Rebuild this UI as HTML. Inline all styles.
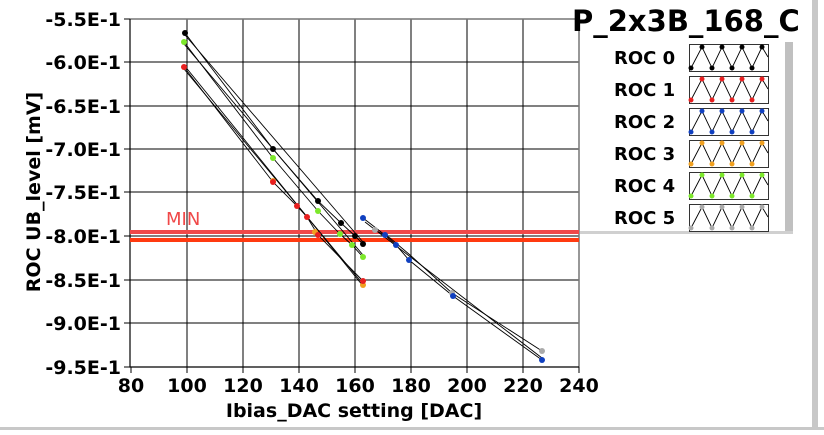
<!DOCTYPE html>
<html><head><meta charset="utf-8"><style>
body{margin:0;background:#fff;}
svg text{font-family:"DejaVu Sans","Liberation Sans",sans-serif;font-weight:bold;}
</style></head><body>
<svg width="824" height="430" viewBox="0 0 824 430" xmlns="http://www.w3.org/2000/svg">
<rect width="824" height="430" fill="#fff"/>
<rect x="812" y="0" width="6" height="428" fill="#c8c8c8"/>
<rect x="0" y="427" width="824" height="3" fill="#c8c8c8"/>
<g stroke="#000" stroke-width="1">
<line x1="187" y1="19" x2="187" y2="367"/><line x1="243" y1="19" x2="243" y2="367"/>
<line x1="299" y1="19" x2="299" y2="367"/><line x1="355" y1="19" x2="355" y2="367"/>
<line x1="411" y1="19" x2="411" y2="367"/><line x1="467" y1="19" x2="467" y2="367"/>
<line x1="523" y1="19" x2="523" y2="367"/>
<line x1="130" y1="62" x2="579" y2="62"/><line x1="130" y1="106" x2="579" y2="106"/>
<line x1="130" y1="149" x2="579" y2="149"/><line x1="130" y1="192" x2="579" y2="192"/>
<line x1="130" y1="236" x2="579" y2="236"/><line x1="130" y1="280" x2="579" y2="280"/>
<line x1="130" y1="323" x2="579" y2="323"/>
</g>
<g stroke="#777" stroke-width="1.5" fill="none">
<polyline points="130,19 579,19 579,367"/>
</g>
<g stroke="#000" stroke-width="1.2" fill="none">
<polyline points="130,19 130,367 579,367"/>
</g>
<g stroke="#000" stroke-width="1">
<line x1="124" y1="19" x2="130" y2="19"/><line x1="124" y1="62" x2="130" y2="62"/><line x1="124" y1="106" x2="130" y2="106"/><line x1="124" y1="149" x2="130" y2="149"/><line x1="124" y1="192" x2="130" y2="192"/><line x1="124" y1="236" x2="130" y2="236"/><line x1="124" y1="280" x2="130" y2="280"/><line x1="124" y1="323" x2="130" y2="323"/><line x1="124" y1="367" x2="130" y2="367"/>
<line x1="131" y1="367" x2="131" y2="373"/><line x1="187" y1="367" x2="187" y2="373"/><line x1="243" y1="367" x2="243" y2="373"/><line x1="299" y1="367" x2="299" y2="373"/><line x1="355" y1="367" x2="355" y2="373"/><line x1="411" y1="367" x2="411" y2="373"/><line x1="467" y1="367" x2="467" y2="373"/><line x1="523" y1="367" x2="523" y2="373"/><line x1="579" y1="367" x2="579" y2="373"/>
</g>
<rect x="130" y="230" width="449" height="4" fill="#f04848"/>
<rect x="130" y="238" width="449" height="4" fill="#ff3a10"/>
<text x="166" y="225" font-size="18" fill="#f04848" style="font-weight:normal">MIN</text>
<g stroke="#000" stroke-width="0.9" fill="none">
<polyline points="185,33 273,149 318,201 341,223 355,236 363,244"/>
<line x1="185" y1="35" x2="363" y2="242"/>
<polyline points="184,42 273,158 318,211 340,234 352,245 363,257"/>
<line x1="184" y1="44" x2="363" y2="255"/>
<polyline points="184,67 273,182 297,206 307,217 318,235 363,281"/>
<line x1="184" y1="69" x2="363" y2="284"/>
<line x1="184" y1="65" x2="363" y2="286"/>
<polyline points="363,218 385,235 396,245 409,260 453,296 542,360"/>
<polyline points="375,230 390,238 410,255 452,293 542,351"/>
<line x1="365" y1="222" x2="542" y2="358"/>
</g>
<g fill="#000"><circle cx="185" cy="33" r="3"/><circle cx="273" cy="149" r="3"/><circle cx="318" cy="201" r="3"/><circle cx="341" cy="223" r="3"/><circle cx="355" cy="236" r="3"/><circle cx="363" cy="244" r="3"/></g>
<g fill="#7ce82a"><circle cx="184" cy="42" r="3"/><circle cx="273" cy="158" r="3"/><circle cx="318" cy="211" r="3"/><circle cx="340" cy="234" r="3"/><circle cx="352" cy="245" r="3"/><circle cx="363" cy="257" r="3"/></g>
<g fill="#f0a020"><circle cx="273" cy="181" r="3"/><circle cx="363" cy="285" r="3"/><circle cx="315" cy="232" r="3"/></g>
<g fill="#e82020"><circle cx="184" cy="67" r="3"/><circle cx="273" cy="182" r="3"/><circle cx="297" cy="206" r="3"/><circle cx="307" cy="217" r="3"/><circle cx="318" cy="235" r="3"/><circle cx="363" cy="281" r="3"/></g>
<g fill="#aaa"><circle cx="375" cy="230" r="3"/><circle cx="452" cy="293" r="3"/><circle cx="542" cy="351" r="3"/></g>
<g fill="#1040c0"><circle cx="363" cy="218" r="3"/><circle cx="385" cy="235" r="3"/><circle cx="396" cy="245" r="3"/><circle cx="409" cy="260" r="3"/><circle cx="453" cy="296" r="3"/><circle cx="542" cy="360" r="3"/></g>
<g font-size="19" text-anchor="end" fill="#000">
<text x="121" y="26">-5.5E-1</text><text x="121" y="69">-6.0E-1</text><text x="121" y="113">-6.5E-1</text><text x="121" y="156">-7.0E-1</text><text x="121" y="199">-7.5E-1</text><text x="121" y="243">-8.0E-1</text><text x="121" y="287">-8.5E-1</text><text x="121" y="330">-9.0E-1</text><text x="121" y="374">-9.5E-1</text>
</g>
<g font-size="19" text-anchor="middle" fill="#000">
<text x="131" y="392">80</text><text x="187" y="392">100</text><text x="243" y="392">120</text><text x="299" y="392">140</text><text x="355" y="392">160</text><text x="411" y="392">180</text><text x="467" y="392">200</text><text x="523" y="392">220</text><text x="579" y="392">240</text>
</g>
<text x="354" y="417" font-size="19" text-anchor="middle">Ibias_DAC setting [DAC]</text>
<text transform="translate(40,192) rotate(-90)" font-size="19" text-anchor="middle">ROC UB_level [mV]</text>
<rect x="785" y="42" width="8" height="192" fill="#c0c0c0"/>
<rect x="580" y="40" width="205" height="193" fill="#fff"/>
<rect x="580" y="231" width="213" height="3" fill="#d0d0d0"/>
<text x="572" y="31" font-size="29">P_2x3B_168_C</text>
<g font-size="18">
<text x="614" y="64">ROC 0</text><text x="614" y="96">ROC 1</text><text x="614" y="128">ROC 2</text><text x="614" y="160">ROC 3</text><text x="614" y="192">ROC 4</text><text x="614" y="224">ROC 5</text>
</g>
<g stroke="#333" fill="none" stroke-width="1">
<rect x="689.5" y="44.5" width="79" height="27"/><rect x="689.5" y="76.5" width="79" height="27"/><rect x="689.5" y="108.5" width="79" height="27"/><rect x="689.5" y="140.5" width="79" height="27"/><rect x="689.5" y="172.5" width="79" height="27"/><rect x="689.5" y="204.5" width="79" height="27"/>
</g>
<defs>
<g id="zz"><polyline points="691,24 702,3 712,24 722,3 732,24 742,3 752,24 762,3 768,13" stroke="#000" stroke-width="0.9" fill="none"/></g>
</defs>
<g transform="translate(0,44)"><use href="#zz"/><g fill="#000"><circle cx="691" cy="24" r="2.5"/><circle cx="702" cy="3" r="2.5"/><circle cx="712" cy="24" r="2.5"/><circle cx="722" cy="3" r="2.5"/><circle cx="732" cy="24" r="2.5"/><circle cx="742" cy="3" r="2.5"/><circle cx="752" cy="24" r="2.5"/><circle cx="762" cy="3" r="2.5"/></g></g>
<g transform="translate(0,76)"><use href="#zz"/><g fill="#e82020"><circle cx="691" cy="24" r="2.5"/><circle cx="702" cy="3" r="2.5"/><circle cx="712" cy="24" r="2.5"/><circle cx="722" cy="3" r="2.5"/><circle cx="732" cy="24" r="2.5"/><circle cx="742" cy="3" r="2.5"/><circle cx="752" cy="24" r="2.5"/><circle cx="762" cy="3" r="2.5"/></g></g>
<g transform="translate(0,108)"><use href="#zz"/><g fill="#1040c0"><circle cx="691" cy="24" r="2.5"/><circle cx="702" cy="3" r="2.5"/><circle cx="712" cy="24" r="2.5"/><circle cx="722" cy="3" r="2.5"/><circle cx="732" cy="24" r="2.5"/><circle cx="742" cy="3" r="2.5"/><circle cx="752" cy="24" r="2.5"/><circle cx="762" cy="3" r="2.5"/></g></g>
<g transform="translate(0,140)"><use href="#zz"/><g fill="#f0a020"><circle cx="691" cy="24" r="2.5"/><circle cx="702" cy="3" r="2.5"/><circle cx="712" cy="24" r="2.5"/><circle cx="722" cy="3" r="2.5"/><circle cx="732" cy="24" r="2.5"/><circle cx="742" cy="3" r="2.5"/><circle cx="752" cy="24" r="2.5"/><circle cx="762" cy="3" r="2.5"/></g></g>
<g transform="translate(0,172)"><use href="#zz"/><g fill="#7ce82a"><circle cx="691" cy="24" r="2.5"/><circle cx="702" cy="3" r="2.5"/><circle cx="712" cy="24" r="2.5"/><circle cx="722" cy="3" r="2.5"/><circle cx="732" cy="24" r="2.5"/><circle cx="742" cy="3" r="2.5"/><circle cx="752" cy="24" r="2.5"/><circle cx="762" cy="3" r="2.5"/></g></g>
<g transform="translate(0,204)"><use href="#zz"/><g fill="#aaa"><circle cx="691" cy="24" r="2.5"/><circle cx="702" cy="3" r="2.5"/><circle cx="712" cy="24" r="2.5"/><circle cx="722" cy="3" r="2.5"/><circle cx="732" cy="24" r="2.5"/><circle cx="742" cy="3" r="2.5"/><circle cx="752" cy="24" r="2.5"/><circle cx="762" cy="3" r="2.5"/></g></g>
</svg>
</body></html>
